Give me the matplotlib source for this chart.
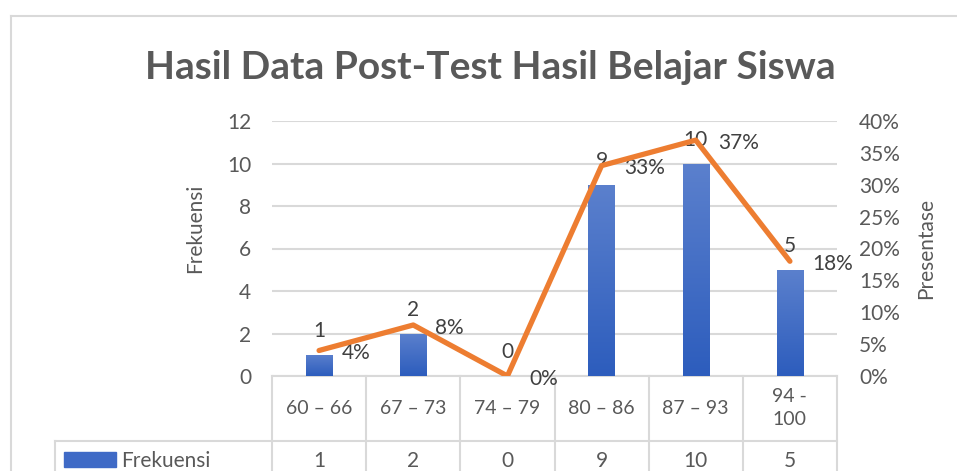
import numpy as np
import matplotlib.pyplot as plt
from matplotlib.colors import LinearSegmentedColormap
from matplotlib.patches import Rectangle
from matplotlib.lines import Line2D
import matplotlib.transforms as mtransforms

plt.rcParams['font.family'] = ['Lato', 'DejaVu Sans']

categories = ['60 – 66', '67 – 73', '74 – 79', '80 – 86', '87 – 93', '94 -\n100']
frekuensi = [1, 2, 0, 9, 10, 5]
presentase = [0.04, 0.08, 0.0, 0.33, 0.37, 0.18]

GRAY = '#595959'
DARK = '#404040'
LINE = '#D9D9D9'
ORANGE = '#ED7D31'
FS = 15

W, H = 957, 471
fig = plt.figure(figsize=(W / 100, H / 100), dpi=100)

# outer chart border (cut off at right and bottom like the screenshot)
fig.add_artist(Line2D([11 / W, 1], [1 - 16 / H, 1 - 16 / H], color=LINE, lw=1.5))
fig.add_artist(Line2D([11 / W, 11 / W], [0, 1 - 16 / H], color=LINE, lw=1.5))

left, right, top, bottom = 272, 837, 121, 376
ax = fig.add_axes([left / W, 1 - bottom / H, (right - left) / W, (bottom - top) / H])
x = np.arange(len(categories))

bars = ax.bar(x, frekuensi, width=0.28, color='#4472C4', zorder=2)
cmap = LinearSegmentedColormap.from_list('bar', ['#2D5DBD', '#5B80CD'])
grad = np.linspace(0, 1, 100).reshape(-1, 1)
for b in bars:
    x0, y0 = b.get_xy()
    if b.get_height() <= 0:
        continue
    im = ax.imshow(grad, extent=[x0, x0 + b.get_width(), y0, y0 + b.get_height()],
                   origin='lower', aspect='auto', cmap=cmap, zorder=3)
    im.set_clip_path(b)

ax.set_xlim(-0.5, len(categories) - 0.5)
ax.set_ylim(0, 12)
ax.set_yticks(range(0, 13, 2))
ax.set_xticks([])
ax.yaxis.grid(True, color=LINE, lw=1.5)
ax.set_axisbelow(True)
for s in ax.spines.values():
    s.set_visible(False)
ax.tick_params(axis='y', length=0, pad=15, labelsize=FS, labelcolor=GRAY)
ax.set_ylabel('Frekuensi', fontsize=FS, color=GRAY)
ax.yaxis.set_label_coords(-0.118, 0.58)

for i, v in enumerate(frekuensi):
    ax.annotate(str(v), (x[i], v), xytext=(0, 17), textcoords='offset points',
                ha='center', va='center', fontsize=FS, color=DARK, zorder=5)

ax2 = ax.twinx()
ax2.plot(x, presentase, color=ORANGE, lw=3.8, solid_joinstyle='round',
         solid_capstyle='round', zorder=4)
ax2.set_ylim(0, 0.40)
ax2.set_yticks(np.arange(0, 0.41, 0.05))
ax2.set_yticklabels([f'{int(round(t * 100))}%' for t in np.arange(0, 0.41, 0.05)])
for s in ax2.spines.values():
    s.set_visible(False)
ax2.tick_params(axis='y', length=0, pad=16, labelsize=FS, labelcolor=GRAY)
ax2.set_ylabel('Presentase', fontsize=FS, color=GRAY)
ax2.yaxis.set_label_coords(1.14, 0.5)
for i, v in enumerate(presentase):
    ax2.annotate(f'{int(round(v * 100))}%', (x[i], v), xytext=(16, -2),
                 textcoords='offset points', ha='left', va='center',
                 fontsize=FS, color=DARK)

# data table under the plot
trans = mtransforms.blended_transform_factory(ax.transData, fig.transFigure)
row1_top = 1 - bottom / H
row2_top = 1 - 441 / H
edges = np.arange(len(categories) + 1) - 0.5
ax.add_artist(Line2D([edges[0], edges[-1]], [row1_top, row1_top], transform=trans,
                     color=LINE, lw=1.5, clip_on=False))
for e in edges:
    ax.add_artist(Line2D([e, e], [0, row1_top], transform=trans, color=LINE,
                         lw=1.5, clip_on=False))
fig.add_artist(Line2D([55 / W, right / W], [row2_top, row2_top], color=LINE, lw=1.5))
fig.add_artist(Line2D([55 / W, 55 / W], [0, row2_top], color=LINE, lw=1.5))

for i, c in enumerate(categories):
    ax.text(x[i], 1 - 408 / H, c, transform=trans, ha='center', va='center',
            fontsize=14, color=GRAY, linespacing=1.4, clip_on=False)
    ax.text(x[i], 1 - 461 / H, str(frekuensi[i]), transform=trans, ha='center',
            va='center', fontsize=FS, color=GRAY, clip_on=False)

fig.add_artist(Rectangle((64 / W, 1 - 467 / H), 52 / W, 15 / H,
                         transform=fig.transFigure, color='#3F6AC6'))
fig.text(121 / W, 1 - 461 / H, 'Frekuensi', ha='left', va='center',
         fontsize=FS, color=GRAY)

fig.text(490 / W, 1 - 79 / H, 'Hasil Data Post-Test Hasil Belajar Siswa',
         ha='center', va='baseline', fontsize=28, fontweight='bold', color=GRAY)

fig.savefig('out.png', dpi=100)
